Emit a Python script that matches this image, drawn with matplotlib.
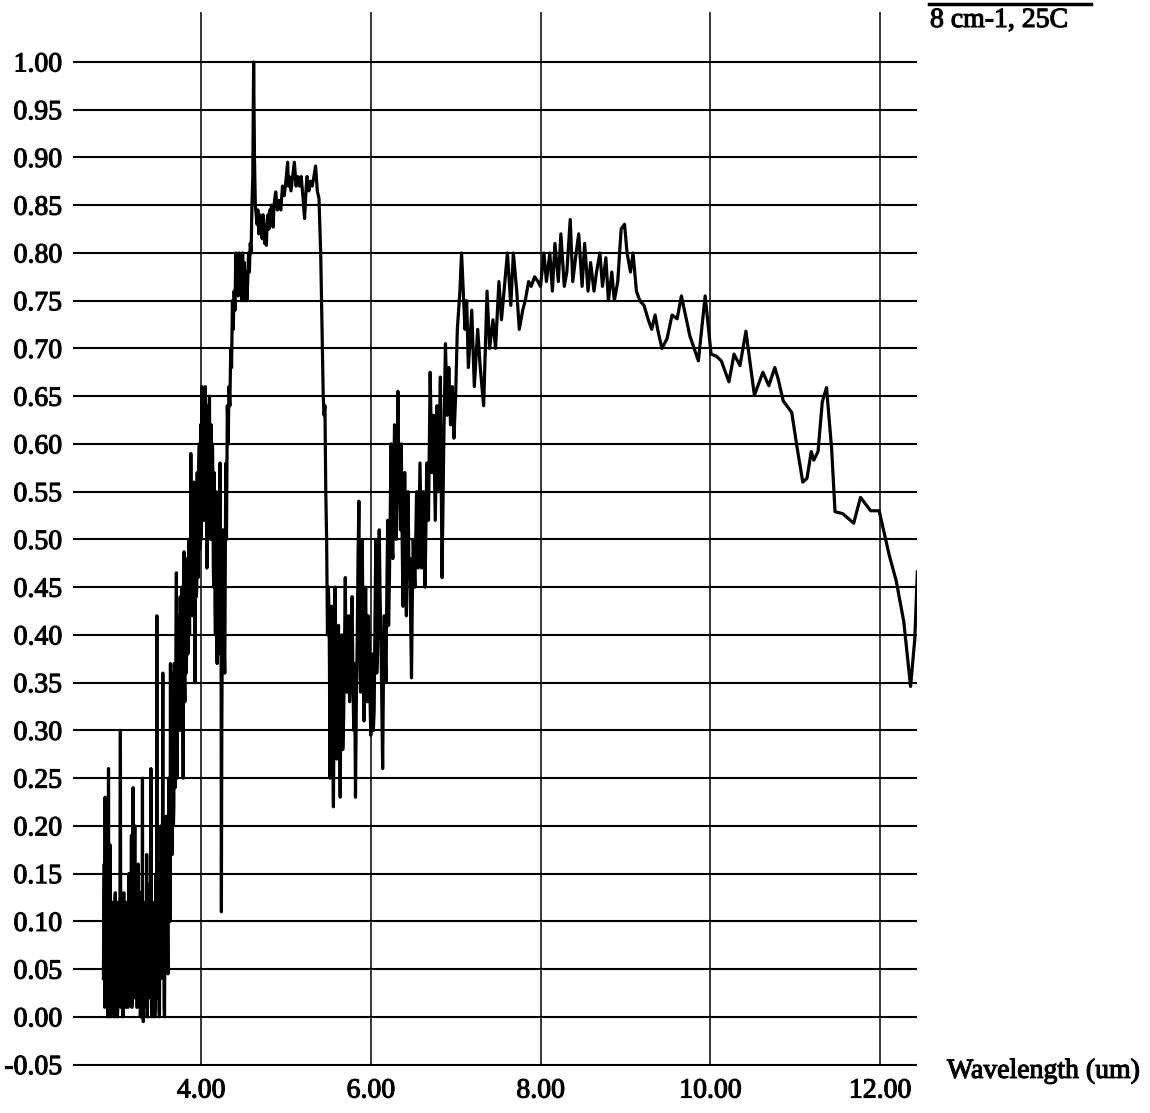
import numpy as np
import matplotlib.pyplot as plt
import matplotlib.patheffects as pe
from matplotlib.lines import Line2D
from matplotlib.ticker import FormatStrFormatter

plt.rcParams['font.family'] = ['Liberation Serif', 'DejaVu Serif']
plt.rcParams['axes.unicode_minus'] = False

# spectrum, split by band (wavelength in um)
wl_a = [2.850, 2.855, 2.860, 2.865, 2.870, 2.875, 2.880, 2.885, 2.890, 2.895,
        2.900, 2.905, 2.910, 2.915, 2.920, 2.925, 2.930, 2.935, 2.940, 2.945,
        2.950, 2.955, 2.960, 2.965, 2.970, 2.975, 2.980, 2.985, 2.990, 2.995,
        3.000, 3.005, 3.010, 3.015, 3.020, 3.025, 3.030, 3.035, 3.040, 3.045,
        3.050, 3.055, 3.060, 3.065, 3.070, 3.075, 3.080, 3.085, 3.090, 3.095,
        3.100, 3.105, 3.110, 3.115, 3.120, 3.125, 3.130, 3.135, 3.140, 3.145,
        3.150, 3.155, 3.160, 3.165, 3.170, 3.175, 3.180, 3.185, 3.190, 3.195,
        3.200, 3.205, 3.210, 3.215, 3.220, 3.225, 3.230, 3.235, 3.240, 3.245,
        3.250, 3.255, 3.260, 3.265, 3.270, 3.275, 3.280, 3.285, 3.290, 3.295,
        3.300, 3.305, 3.310, 3.315, 3.320, 3.325, 3.330, 3.335, 3.340, 3.345,
        3.350, 3.355, 3.360, 3.365, 3.370, 3.375, 3.380, 3.385, 3.390, 3.395,
        3.400, 3.405, 3.410, 3.415, 3.420, 3.425, 3.430, 3.435, 3.440, 3.445,
        3.450, 3.455, 3.460, 3.465, 3.470, 3.475, 3.480, 3.485, 3.490, 3.495,
        3.500, 3.505, 3.510, 3.515, 3.520, 3.525, 3.530, 3.535, 3.540, 3.545,
        3.550, 3.555, 3.560, 3.565, 3.570, 3.575, 3.580, 3.585, 3.590, 3.595,
        3.600, 3.605, 3.610, 3.615, 3.620, 3.625, 3.630, 3.635, 3.640, 3.645]
r_a = [0.04, 0.12, 0.16, 0.01, 0.23, 0.05, 0.02, 0.11, 0.14, 0.03,
       0.00, 0.10, 0.26, 0.02, 0.03, 0.12, 0.18, 0.00, 0.01, 0.09,
       0.12, 0.02, 0.03, 0.11, 0.10, 0.01, 0.00, 0.12, 0.13, 0.03,
       0.02, 0.10, 0.09, 0.00, 0.01, 0.12, 0.11, 0.02, 0.04, 0.13,
       0.30, 0.01, 0.02, 0.10, 0.11, 0.03, 0.00, 0.09, 0.13, 0.02,
       0.02, 0.12, 0.08, 0.01, 0.04, 0.11, 0.12, 0.02, 0.01, 0.10,
       0.15, 0.02, 0.03, 0.13, 0.12, 0.04, 0.19, 0.01, 0.03, 0.14,
       0.24, 0.03, 0.02, 0.11, 0.20, 0.02, 0.05, 0.13, 0.12, 0.01,
       0.01, 0.10, 0.16, 0.02, 0.03, 0.12, 0.13, 0.00, 0.02, 0.10,
       0.11, 0.03, 0.25, 0.02, -0.005, 0.10, 0.11, 0.01, 0.02, 0.12,
       0.10, 0.03, 0.17, 0.00, 0.01, 0.11, 0.10, 0.02, 0.03, 0.13,
       0.14, 0.02, 0.26, 0.03, 0.00, 0.10, 0.12, 0.01, 0.02, 0.11,
       0.09, 0.00, 0.01, 0.12, 0.15, 0.03, 0.42, 0.02, 0.05, 0.13,
       0.16, 0.01, 0.00, 0.10, 0.12, 0.04, 0.20, 0.06, 0.08, 0.15,
       0.36, 0.05, 0.12, 0.01, 0.00, 0.10, 0.14, 0.08, 0.21, 0.12,
       0.15, 0.09, 0.045, 0.16, 0.25, 0.12, 0.18, 0.10, 0.37, 0.20]

wl_b = [3.650, 3.655, 3.660, 3.665, 3.670, 3.675, 3.680, 3.685, 3.690, 3.695,
        3.700, 3.705, 3.710, 3.715, 3.720, 3.725, 3.730, 3.735, 3.740, 3.745,
        3.750, 3.755, 3.760, 3.765, 3.770, 3.775, 3.780, 3.785, 3.790, 3.795,
        3.800, 3.805, 3.810, 3.815, 3.820, 3.825, 3.830, 3.835, 3.840, 3.845,
        3.850, 3.855, 3.860, 3.865, 3.870, 3.875, 3.880, 3.885, 3.890, 3.895,
        3.900, 3.905, 3.910, 3.915, 3.920, 3.925, 3.930, 3.935, 3.940, 3.945,
        3.950, 3.955, 3.960, 3.965, 3.970, 3.975, 3.980, 3.985, 3.990, 3.995,
        4.000, 4.005, 4.010, 4.015, 4.020, 4.025, 4.030, 4.035, 4.040, 4.045,
        4.050, 4.055, 4.060, 4.065, 4.070, 4.075, 4.080, 4.085, 4.090, 4.095,
        4.100, 4.105, 4.110, 4.115, 4.120, 4.125, 4.130, 4.135, 4.140, 4.145,
        4.150, 4.155, 4.160, 4.165, 4.170, 4.175, 4.180, 4.185, 4.190, 4.195,
        4.200, 4.205, 4.210, 4.215, 4.220, 4.225, 4.230, 4.235, 4.240, 4.245,
        4.250, 4.255, 4.260, 4.265, 4.270, 4.275, 4.280, 4.285, 4.290, 4.295]
r_b = [0.26, 0.33, 0.17, 0.36, 0.30, 0.20, 0.22, 0.37, 0.33, 0.24,
       0.27, 0.40, 0.465, 0.30, 0.25, 0.41, 0.36, 0.30, 0.42, 0.33,
       0.30, 0.44, 0.40, 0.31, 0.33, 0.45, 0.38, 0.30, 0.25, 0.40,
       0.487, 0.36, 0.33, 0.47, 0.45, 0.36, 0.38, 0.47, 0.48, 0.38,
       0.40, 0.50, 0.44, 0.40, 0.50, 0.42, 0.59, 0.48, 0.45, 0.55,
       0.52, 0.42, 0.43, 0.56, 0.50, 0.42, 0.35, 0.50, 0.55, 0.44,
       0.45, 0.57, 0.53, 0.46, 0.47, 0.58, 0.60, 0.49, 0.50, 0.62,
       0.57, 0.50, 0.66, 0.52, 0.55, 0.63, 0.65, 0.54, 0.52, 0.62,
       0.66, 0.53, 0.58, 0.64, 0.47, 0.60, 0.63, 0.52, 0.55, 0.64,
       0.65, 0.53, 0.58, 0.50, 0.62, 0.55, 0.50, 0.60, 0.56, 0.47,
       0.45, 0.57, 0.52, 0.43, 0.40, 0.55, 0.47, 0.40, 0.37, 0.52,
       0.50, 0.41, 0.40, 0.55, 0.46, 0.58, 0.38, 0.50, 0.11, 0.30,
       0.40, 0.48, 0.51, 0.45, 0.42, 0.38, 0.36, 0.45, 0.55, 0.58]

wl_c = [4.30, 4.31, 4.32, 4.33, 4.34, 4.35, 4.36, 4.37, 4.38, 4.39,
        4.40, 4.41, 4.42, 4.43, 4.44, 4.45, 4.46, 4.47, 4.48, 4.49,
        4.50, 4.51, 4.52, 4.53, 4.54, 4.55, 4.56, 4.57, 4.58, 4.59,
        4.60, 4.61, 4.62, 4.63, 4.64, 4.65, 4.66, 4.67, 4.68, 4.69,
        4.70, 4.71, 4.72, 4.73, 4.74, 4.75, 4.76, 4.77, 4.78, 4.79,
        4.80, 4.81, 4.82, 4.83, 4.84, 4.85, 4.86,
        4.88, 4.90, 4.92, 4.94, 4.96, 4.98, 5.00,
        5.02, 5.03, 5.04, 5.06, 5.08, 5.10, 5.12, 5.14, 5.16, 5.18,
        5.20, 5.22, 5.24, 5.25, 5.27, 5.29, 5.31, 5.33, 5.35, 5.37, 5.39,
        5.41, 5.42, 5.43, 5.44, 5.45, 5.46, 5.47, 5.48, 5.49, 5.50]
r_c = [0.50, 0.64, 0.60, 0.66, 0.64, 0.70, 0.68, 0.75, 0.72, 0.76,
       0.74, 0.80, 0.76, 0.79, 0.755, 0.80, 0.77, 0.79, 0.75, 0.80,
       0.76, 0.79, 0.75, 0.78, 0.75, 0.77, 0.80, 0.78, 0.81, 0.80,
       0.85, 0.88, 1.00, 0.90, 0.85, 0.84, 0.83, 0.845, 0.82, 0.84,
       0.825, 0.835, 0.815, 0.84, 0.82, 0.81, 0.83, 0.808, 0.835, 0.84,
       0.825, 0.845, 0.83, 0.85, 0.835, 0.827, 0.85,
       0.864, 0.845, 0.855, 0.845, 0.87, 0.86, 0.875,
       0.895, 0.87, 0.88, 0.865, 0.88, 0.895, 0.87, 0.88, 0.87, 0.88,
       0.86, 0.836, 0.87, 0.88, 0.865, 0.875, 0.87, 0.88, 0.891, 0.865, 0.857,
       0.80, 0.75, 0.70, 0.65, 0.63, 0.64, 0.55, 0.50, 0.40, 0.45]

wl_d = [5.51, 5.52, 5.53, 5.54, 5.55, 5.56, 5.57, 5.58, 5.59, 5.60,
        5.61, 5.62, 5.63, 5.64, 5.65, 5.66, 5.67, 5.68, 5.69, 5.70,
        5.71, 5.72, 5.73, 5.74, 5.75, 5.76, 5.77, 5.78, 5.79, 5.80,
        5.81, 5.82, 5.83, 5.84, 5.85, 5.86, 5.87, 5.88, 5.89, 5.90,
        5.91, 5.92, 5.93, 5.94, 5.95, 5.96, 5.97, 5.98, 5.99, 6.00,
        6.01, 6.02, 6.03, 6.04, 6.05, 6.06, 6.07, 6.08, 6.09, 6.10,
        6.11, 6.12, 6.13, 6.14, 6.15, 6.16, 6.17, 6.18, 6.19, 6.20,
        6.21, 6.22, 6.23, 6.24, 6.25, 6.26, 6.27, 6.28, 6.29, 6.30,
        6.31, 6.32, 6.33, 6.34, 6.35, 6.36, 6.37, 6.38, 6.39, 6.40,
        6.41, 6.42, 6.43, 6.44, 6.45, 6.46, 6.47, 6.48, 6.49, 6.50,
        6.52, 6.54, 6.56, 6.58, 6.60, 6.62, 6.64, 6.66, 6.68, 6.70,
        6.72, 6.74, 6.76, 6.78, 6.80, 6.82, 6.84, 6.86, 6.88, 6.90,
        6.92, 6.94, 6.96, 6.98, 7.00]
r_d = [0.42, 0.25, 0.38, 0.43, 0.30, 0.22, 0.36, 0.45, 0.33, 0.27,
       0.39, 0.41, 0.30, 0.23, 0.35, 0.40, 0.28, 0.31, 0.38, 0.46,
       0.35, 0.34, 0.40, 0.42, 0.33, 0.36, 0.41, 0.44, 0.35, 0.30,
       0.37, 0.23, 0.33, 0.39, 0.48, 0.54, 0.40, 0.34, 0.44, 0.50,
       0.38, 0.31, 0.40, 0.45, 0.36, 0.33, 0.42, 0.40, 0.34, 0.295,
       0.35, 0.38, 0.30, 0.32, 0.42, 0.50, 0.36, 0.38, 0.45, 0.51,
       0.44, 0.40, 0.33, 0.26, 0.36, 0.42, 0.38, 0.35, 0.45, 0.52,
       0.41, 0.46, 0.53, 0.60, 0.50, 0.48, 0.55, 0.62, 0.52, 0.50,
       0.58, 0.655, 0.57, 0.55, 0.51, 0.60, 0.50, 0.43, 0.48, 0.57,
       0.47, 0.42, 0.50, 0.55, 0.46, 0.48, 0.42, 0.355, 0.44, 0.50,
       0.45, 0.55, 0.47, 0.58, 0.47, 0.55, 0.45, 0.58, 0.52, 0.675,
       0.57, 0.63, 0.52, 0.64, 0.55, 0.67, 0.46, 0.60, 0.705, 0.63,
       0.68, 0.62, 0.66, 0.606, 0.65]

wl_e = [7.02, 7.05, 7.07, 7.11, 7.13, 7.15, 7.19, 7.22, 7.26, 7.29,
        7.33, 7.37, 7.40, 7.44, 7.47, 7.51, 7.54, 7.58, 7.61, 7.65,
        7.68, 7.72, 7.75, 7.79, 7.82, 7.86, 7.89, 7.93, 7.97, 8.00,
        8.04, 8.07, 8.11, 8.14, 8.17, 8.21, 8.24, 8.28, 8.31, 8.35,
        8.38, 8.42, 8.45, 8.49, 8.52, 8.56, 8.59, 8.63, 8.66, 8.70,
        8.73, 8.77, 8.80, 8.84, 8.87, 8.91, 8.95, 8.99, 9.02, 9.06,
        9.09, 9.13, 9.17, 9.22, 9.27, 9.31, 9.35, 9.38, 9.43, 9.49,
        9.55, 9.61, 9.66, 9.76, 9.86, 9.94]
r_e = [0.72, 0.76, 0.80, 0.72, 0.75, 0.68, 0.74, 0.66, 0.72, 0.68,
       0.64, 0.76, 0.70, 0.73, 0.70, 0.77, 0.73, 0.77, 0.80, 0.745,
       0.80, 0.76, 0.72, 0.74, 0.75, 0.77, 0.765, 0.775, 0.77, 0.765,
       0.80, 0.77, 0.80, 0.76, 0.81, 0.77, 0.82, 0.765, 0.78, 0.835,
       0.77, 0.80, 0.82, 0.765, 0.81, 0.76, 0.79, 0.76, 0.78, 0.80,
       0.765, 0.795, 0.75, 0.78, 0.75, 0.77, 0.825, 0.83, 0.80, 0.78,
       0.80, 0.76, 0.75, 0.745, 0.73, 0.72, 0.735, 0.72, 0.70, 0.71,
       0.735, 0.731, 0.755, 0.713, 0.687, 0.755]

wl_f = [10.01, 10.07, 10.13, 10.22, 10.28, 10.35, 10.42, 10.52, 10.62, 10.69,
        10.76, 10.80, 10.86, 10.96, 11.02, 11.09, 11.14, 11.19, 11.22, 11.27,
        11.32, 11.37, 11.43, 11.47, 11.56, 11.69, 11.77, 11.89, 11.99, 12.11,
        12.19, 12.28, 12.36, 12.41, 12.44]
r_f = [0.694, 0.692, 0.687, 0.665, 0.694, 0.682, 0.718, 0.651, 0.675, 0.661,
       0.680, 0.668, 0.645, 0.633, 0.598, 0.560, 0.564, 0.592, 0.583, 0.592,
       0.644, 0.659, 0.595, 0.529, 0.527, 0.517, 0.544, 0.530, 0.530, 0.483,
       0.457, 0.414, 0.346, 0.396, 0.466]

x_ticks = [4, 6, 8, 10, 12]
y_ticks = [-0.05, 0.00, 0.05, 0.10, 0.15, 0.20, 0.25, 0.30, 0.35, 0.40, 0.45,
           0.50, 0.55, 0.60, 0.65, 0.70, 0.75, 0.80, 0.85, 0.90, 0.95, 1.00]

wavelength = np.concatenate([wl_a, wl_b, wl_c, wl_d, wl_e, wl_f])
signal = np.concatenate([r_a, r_b, r_c, r_d, r_e, r_f])

# slightly heavier glyphs, like photocopied print
ink = [pe.withStroke(linewidth=0.8, foreground='black')]

fig = plt.figure(figsize=(11.5, 11.13), dpi=100)
ax = fig.add_axes([0.0635, 0.0422, 0.7339, 0.947])

ax.plot(wavelength, signal, color='black', lw=2.3)

ax.set_xlim(2.492, 12.436)
ax.set_ylim(-0.0515, 1.0523)
ax.set_xticks(x_ticks)
ax.set_yticks(y_ticks)
ax.xaxis.set_major_formatter(FormatStrFormatter('%.2f'))
ax.yaxis.set_major_formatter(FormatStrFormatter('%.2f'))
ax.tick_params(length=0, labelsize=20)
ax.tick_params(axis='y', pad=8)
ax.tick_params(axis='x', pad=9)
for lab in ax.get_xticklabels() + ax.get_yticklabels():
    lab.set_path_effects(ink)

ax.grid(axis='y', color='black', lw=1.5)
ax.grid(axis='x', color='black', lw=1.1)
ax.set_axisbelow(True)
for s in ax.spines.values():
    s.set_visible(False)

ax.set_xlabel('Wavelength (um)', fontsize=20, ha='left', va='center',
              path_effects=ink)
ax.xaxis.set_label_coords(1.0355, -0.005)

# legend entry: sample line over the label
fig.add_artist(Line2D([929 / 1150, 1091 / 1150], [1 - 4 / 1113] * 2,
                      color='black', lw=2.5))
fig.text(930 / 1150, 1 - 8 / 1113, '8 cm-1, 25C', fontsize=20, va='top', ha='left',
         path_effects=ink)

fig.savefig('out.png', dpi=100)
